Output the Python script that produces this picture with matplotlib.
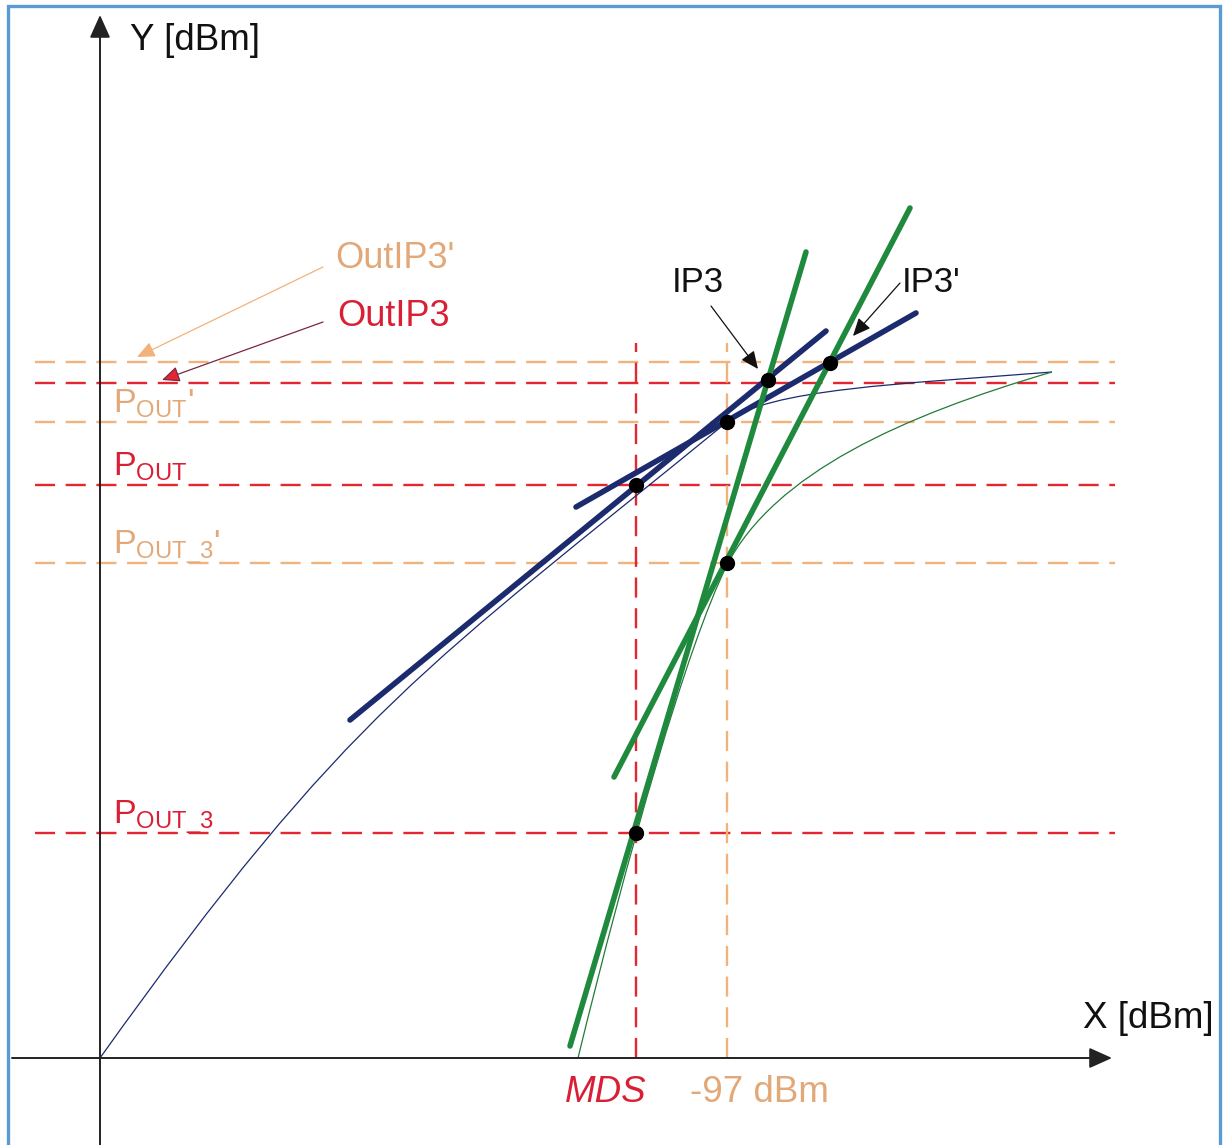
import matplotlib
matplotlib.use("Agg")
import matplotlib.pyplot as plt
from matplotlib.path import Path
from matplotlib.patches import PathPatch, Rectangle

plt.rcParams["font.family"] = ["Liberation Sans", "DejaVu Sans"]
plt.rcParams["mathtext.fontset"] = "custom"
plt.rcParams["mathtext.rm"] = "Liberation Sans"
plt.rcParams["mathtext.default"] = "rm"

# ---- diagram data (arbitrary dB units, origin at the axis crossing) ----
level_labels = [r"OutIP3'", r"OutIP3", r"P$_{OUT}$'", r"P$_{OUT}$",
                r"P$_{OUT\_3}$'", r"P$_{OUT\_3}$"]
level_values = [69.6, 67.5, 63.6, 57.3, 49.5, 22.5]
level_colours = ["tan", "red", "tan", "red", "tan", "red"]

marker_labels = ["MDS", "-97 dBm"]
marker_x = [53.6, 62.7]
marker_colours = ["red", "tan"]

# intercept points
point_x = [53.6, 62.7, 66.8, 73.0, 62.7, 53.6]
point_y = [57.3, 63.6, 67.8, 69.5, 49.5, 22.5]

# fundamental asymptotes: x pairs, y pairs
fund_x = [[25.0, 72.6], [47.6, 81.6]]
fund_y = [[33.8, 72.7], [55.1, 74.5]]
# third-order asymptotes
im3_x = [[47.0, 70.6], [51.4, 81.0]]
im3_y = [[1.2, 80.6], [28.1, 85.0]]

# measured response curves as cubic Bezier vertices
fund_curve_x = [0.0, 25.0, 32.7, 62.7, 66.7, 80.2, 95.2]
fund_curve_y = [0.0, 35.0, 39.1, 63.6, 66.9, 67.4, 68.6]
im3_curve_x = [47.8, 52.8, 58.7, 62.7, 67.5, 80.2, 95.2]
im3_curve_y = [0.0, 20.5, 41.2, 49.3, 58.5, 64.2, 68.6]

ip3_labels = ["IP3", "IP3'"]

colours = {"red": "#e3262f", "tan": "#f2b27c"}
text_colours = {"red": "#d91f35", "tan": "#e2a878"}
NAVY = "#1c2a6e"
GREEN = "#1f8a3e"
THIN_GREEN = "#237a3a"

fig = plt.figure(figsize=(12.26, 11.45), dpi=100)
ax = fig.add_axes([0, 0, 1, 1])
ax.set_xlim(-10.0, 112.6)
ax.set_ylim(-8.7, 105.8)
ax.axis("off")

# outer frame
ax.add_patch(Rectangle((-9.2, -20), 121.2, 125.2, fill=False,
                       ec="#5b9bd5", lw=2.4, clip_on=False, zorder=0))

dash = (0, (8.5, 4.5))
# horizontal reference levels
for y, c in zip(level_values, level_colours):
    ax.plot([-6.5, 101.5], [y, y], color=colours[c], lw=1.7,
            linestyle=dash, zorder=1)
# vertical input markers
for x, c in zip(marker_x, marker_colours):
    ax.plot([x, x], [0, 71.5], color=colours[c], lw=1.7,
            linestyle=dash, zorder=1)

# axes with arrow heads
axis_arrow = dict(arrowstyle="-|>,head_length=1.0,head_width=0.45",
                  mutation_scale=14, color="#222222", lw=1.4,
                  shrinkA=0, shrinkB=0)
ax.annotate("", xy=(0, 104.3), xytext=(0, -9.0), arrowprops=axis_arrow)
ax.annotate("", xy=(101.2, 0), xytext=(-8.8, 0), arrowprops=axis_arrow)

# response curves
codes = [Path.MOVETO] + [Path.CURVE4] * 6
ax.add_patch(PathPatch(Path(list(zip(fund_curve_x, fund_curve_y)), codes),
                       fill=False, ec=NAVY, lw=0.9, zorder=2))
ax.add_patch(PathPatch(Path(list(zip(im3_curve_x, im3_curve_y)), codes),
                       fill=False, ec=THIN_GREEN, lw=0.9, zorder=2))

# asymptotes
for xs, ys in zip(fund_x, fund_y):
    ax.plot(xs, ys, color=NAVY, lw=4.0, solid_capstyle="round", zorder=3)
for xs, ys in zip(im3_x, im3_y):
    ax.plot(xs, ys, color=GREEN, lw=4.0, solid_capstyle="round", zorder=3)

ax.plot(point_x, point_y, "o", color="black", ms=10, zorder=4)

# axis titles
ax.text(3.0, 101.8, "Y [dBm]", fontsize=26.5, va="center", ha="left", color="#111111")
ax.text(98.3, 4.0, "X [dBm]", fontsize=26.5, va="center", ha="left", color="#111111")

# marker labels
ax.text(marker_x[0] - 7.1, -3.4, marker_labels[0], fontsize=26.5, style="italic",
        va="center", ha="left", color=text_colours["red"])
ax.text(marker_x[1] - 3.7, -3.4, marker_labels[1], fontsize=26.5,
        va="center", ha="left", color=text_colours["tan"])

# level labels
ax.text(23.5, 80.0, level_labels[0], fontsize=26, va="center", ha="left",
        color=text_colours["tan"])
ax.text(23.7, 74.2, level_labels[1], fontsize=26, va="center", ha="left",
        color=text_colours["red"])
for lab, y, c in zip(level_labels[2:], level_values[2:], level_colours[2:]):
    ax.text(1.3, y + 0.9, lab, fontsize=24.5, va="baseline", ha="left",
            color=text_colours[c])

ax.annotate("", xy=(3.7, 70.1), xytext=(22.3, 79.1),
            arrowprops=dict(arrowstyle="-|>,head_length=0.9,head_width=0.4",
                            mutation_scale=12, ec=colours["tan"],
                            fc=colours["tan"], lw=0.9, shrinkA=0, shrinkB=0))
ax.annotate("", xy=(6.2, 67.8), xytext=(22.3, 73.6),
            arrowprops=dict(arrowstyle="-|>,head_length=0.9,head_width=0.4",
                            mutation_scale=12, ec="#7a2645",
                            fc=colours["red"], lw=0.9, shrinkA=0, shrinkB=0))

# intercept point labels
ax.text(57.2, 77.6, ip3_labels[0], fontsize=25, va="center", ha="left", color="#111111")
ax.text(80.2, 77.6, ip3_labels[1], fontsize=25, va="center", ha="left", color="#111111")
small_arrow = dict(arrowstyle="-|>,head_length=0.9,head_width=0.4",
                   mutation_scale=12, color="#111111", lw=0.9,
                   shrinkA=0, shrinkB=0)
ax.annotate("", xy=(65.8, 68.9), xytext=(61.1, 75.2), arrowprops=small_arrow)
ax.annotate("", xy=(75.3, 72.2), xytext=(80.0, 77.5), arrowprops=small_arrow)

fig.savefig("out.png", dpi=100, facecolor="white")
